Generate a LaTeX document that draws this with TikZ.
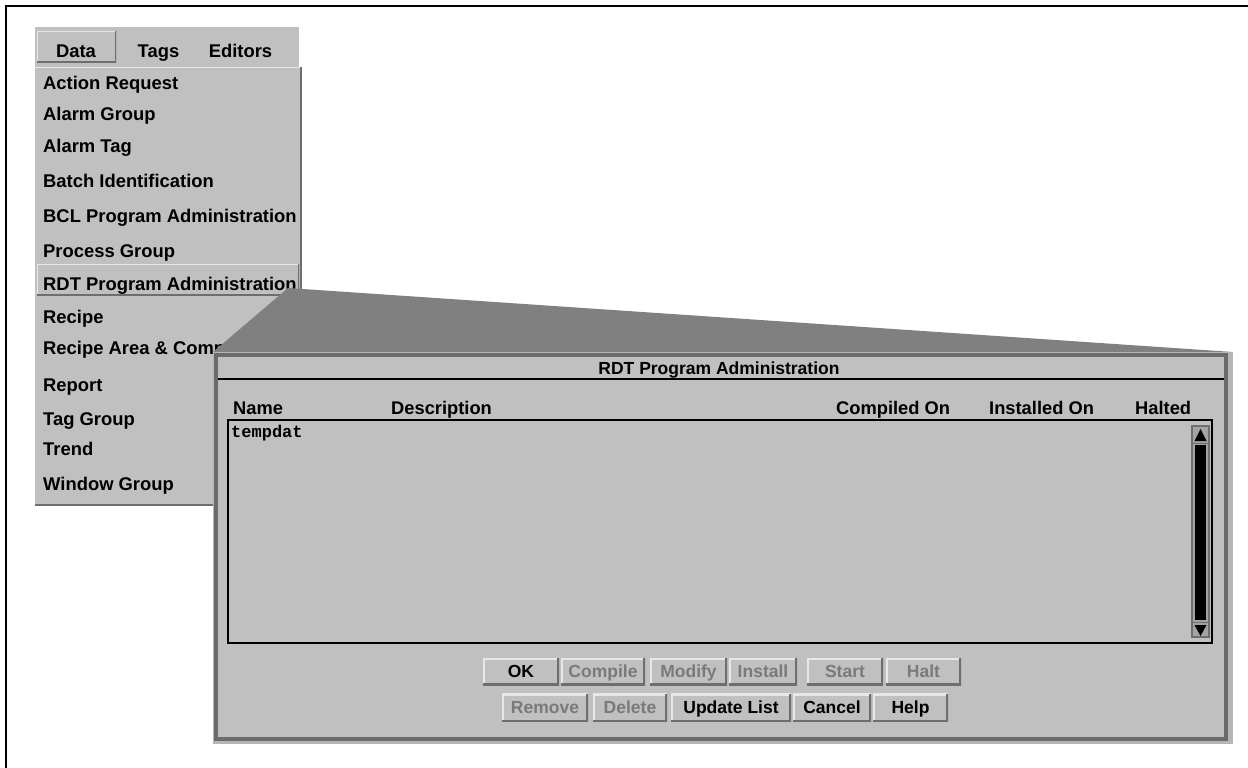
\documentclass[tikz,border=0pt]{standalone}
\usepackage{fontspec}
\setmainfont{Liberation Sans}
\setmonofont{Liberation Mono}
\definecolor{guibg}{HTML}{C0C0C0}
\definecolor{zoomshade}{HTML}{808080}
\definecolor{bevlight}{HTML}{E8E8E8}
\definecolor{bevdark}{HTML}{6E6E6E}
\definecolor{frameedge}{HTML}{6B6B6B}
\definecolor{frameout}{HTML}{B6B6B6}
\definecolor{dimtext}{HTML}{7A7A7A}
\tikzset{
  raised/.style={fill=guibg, draw=none, inner sep=0pt,
    path picture={
      \draw[line width=#1, bevlight]
        (path picture bounding box.south west) -- (path picture bounding box.north west)
        -- (path picture bounding box.north east);
      \draw[line width=#1, bevdark]
        (path picture bounding box.north east) -- (path picture bounding box.south east)
        -- (path picture bounding box.south west);
    }},
  raised/.default=4pt,
  mtext/.style={inner sep=0pt, anchor=base west, font=\fontsize{18.4}{20}\selectfont\bfseries},
  htext/.style={inner sep=0pt, anchor=base west, font=\fontsize{18.3}{20}\selectfont\bfseries},
  btn/.style={raised, minimum height=#1, text height=16pt, text depth=4pt,
    font=\fontsize{17.5}{20}\selectfont\bfseries},
  btn/.default=27pt,
  dim/.style={text=dimtext},
}
\begin{document}
\begin{tikzpicture}[x=1pt,y=-1pt]
\path[use as bounding box] (0,0) rectangle (1248,768);
\clip (0,0) rectangle (1248,768);
\fill[white] (0,0) rectangle (1248,768);

% outer frame
\draw[line width=2.5pt] (6,800) -- (6,6) -- (1260,6);

% menu bar
\fill[guibg] (35,27) rectangle (299,67);
\node[raised=2pt, minimum width=79pt, minimum height=31pt, anchor=north west] (databtn) at (37,31) {};
\node[mtext, anchor=base] (mdata) at (76,58) {Data};
\node[mtext, anchor=base] (mtags) at (158.5,58) {Tags};
\node[mtext, anchor=base] (meditors) at (240.5,58) {Editors};

% drop-down list of the Data menu
\fill[guibg] (35,67) rectangle (301,505);
\draw[bevlight, line width=1.5pt] (35,67.5) -- (300,67.5);
\draw[bevdark, line width=1.5pt] (301,67) -- (301,505) -- (35,505);
\node[raised=2pt, minimum width=262pt, minimum height=31pt, anchor=north west] (rdtsel) at (37,264) {};

\node[mtext] (i1) at (43,89) {Action Request};
\node[mtext] (i2) at (43,121) {Alarm Group};
\node[mtext] (i3) at (43,152) {Alarm Tag};
\node[mtext] (i4) at (43,187) {Batch Identification};
\node[mtext] (i5) at (43,222) {BCL Program Administration};
\node[mtext] (i6) at (43,257) {Process Group};
\node[mtext] (i7) at (43,290) {RDT Program Administration};
\node[mtext] (i8) at (43,323) {Recipe};
\node[mtext] (i9) at (43,354) {Recipe Area \& Comp};
\node[mtext] (i10) at (43,391) {Report};
\node[mtext] (i11) at (43,425) {Tag Group};
\node[mtext] (i12) at (43,455) {Trend};
\node[mtext] (i13) at (43,490) {Window Group};

% zoom wedge from the selected item to the dialog
\fill[zoomshade] (288,288) -- (1233,352) -- (213,352) -- cycle;

% dialog window
\fill[frameout] (213,352) rectangle (1233,744);
\fill[frameedge] (214,353) rectangle (1228,741);
\fill[guibg] (218,357) rectangle (1224,737);
\node[inner sep=0pt, anchor=base, font=\fontsize{17.5}{20}\selectfont\bfseries] (title) at (719,374) {RDT Program Administration};
\draw[line width=1.3pt] (218,379) -- (1224,379);

% column headings
\node[htext] (hname) at (233,414) {Name};
\node[htext] (hdesc) at (391,414) {Description};
\node[htext] (hcomp) at (836,414) {Compiled On};
\node[htext] (hinst) at (989,414) {Installed On};
\node[htext] (hhalt) at (1135,414) {Halted};

% program list
\draw[line width=2pt] (228,420) rectangle (1212,643);
\node[inner sep=0pt, anchor=base west, font=\fontsize{17}{19}\ttfamily\bfseries] (tempdat) at (231,437) {tempdat};

% scroll bar
\draw[bevdark, fill=guibg!85!black, line width=1.5pt] (1192,426) rectangle (1209,637);
\fill[black] (1195,445) rectangle (1206,620);
\draw[bevdark, line width=1pt] (1193,443) -- (1208,443);
\draw[bevdark, line width=1pt] (1193,622) -- (1208,622);
\fill[black] (1194.5,441) -- (1206.5,441) -- (1200.5,429) -- cycle;
\fill[black] (1194.5,625) -- (1206.5,625) -- (1200.5,636) -- cycle;

% command buttons
\node[btn, minimum width=76pt] (bok) at (521,671.5) {OK};
\node[btn, dim, minimum width=84pt] (bcompile) at (603,671.5) {Compile};
\node[btn, dim, minimum width=77pt] (bmodify) at (688.5,671.5) {Modify};
\node[btn, dim, minimum width=68pt] (binstall) at (763,671.5) {Install};
\node[btn, dim, minimum width=76pt] (bstart) at (845,671.5) {Start};
\node[btn, dim, minimum width=75pt] (bhalt) at (923.5,671.5) {Halt};

\node[btn=28pt, dim, minimum width=86pt] (bremove) at (545,707.5) {Remove};
\node[btn=28pt, dim, minimum width=74pt] (bdelete) at (630,707.5) {Delete};
\node[btn=28pt, minimum width=120pt] (bupdate) at (731,707.5) {Update List};
\node[btn=28pt, minimum width=78pt] (bcancel) at (832,707.5) {Cancel};
\node[btn=28pt, minimum width=75pt] (bhelp) at (910.5,707.5) {Help};
\end{tikzpicture}
\end{document}
